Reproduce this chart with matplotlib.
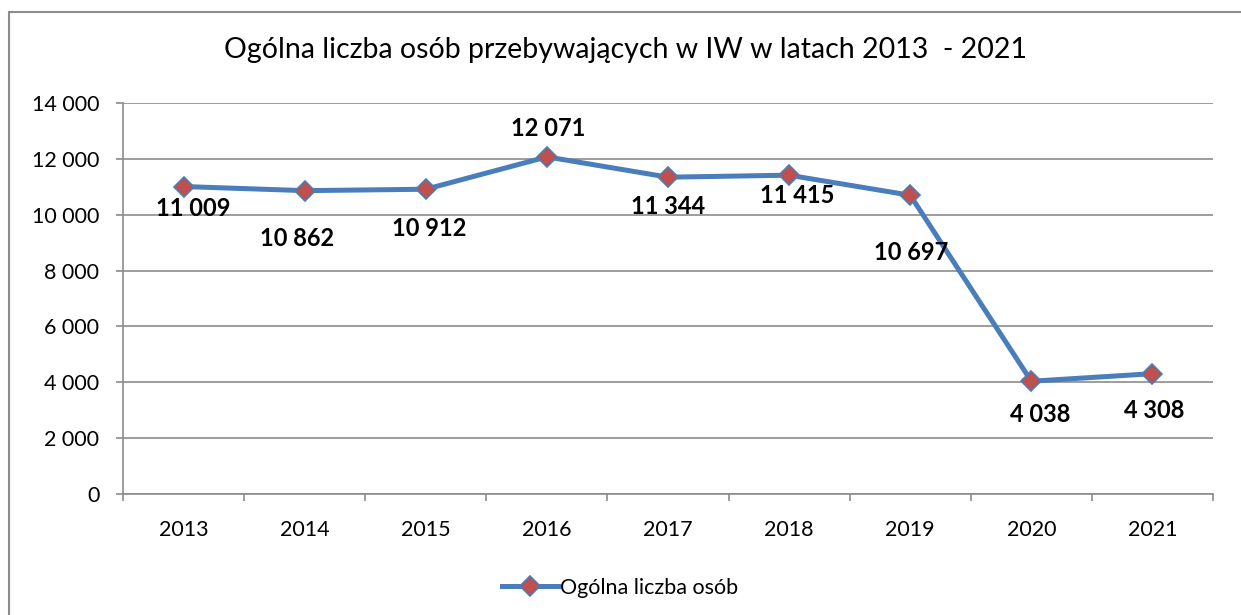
import matplotlib
matplotlib.use("Agg")
import matplotlib.pyplot as plt
from matplotlib.ticker import FuncFormatter, FixedLocator
from matplotlib.lines import Line2D
from matplotlib.patches import Rectangle

plt.rcParams['font.family'] = ['Lato', 'DejaVu Sans']

years = ["2013", "2014", "2015", "2016", "2017", "2018", "2019", "2020", "2021"]
values = [11009, 10862, 10912, 12071, 11344, 11415, 10697, 4038, 4308]
y_ticks = [0, 2000, 4000, 6000, 8000, 10000, 12000, 14000]
title = "Ogólna liczba osób przebywających w IW w latach 2013  - 2021"
series_name = "Ogólna liczba osób"

# label offsets in pixels (dx, dy)
label_offsets = [(10, -22), (-8, -48), (3, -39), (1, 28), (0, -29),
                 (8, -20), (1, -57), (9, -33), (2, -37)]

fig = plt.figure(figsize=(12.41, 6.15), dpi=100)
ax = fig.add_axes([123/1241, 1 - 494/615, (1213-123)/1241, (494-103)/615])

line_col = "#4A7EBB"
mark_col = "#C0504D"
grid_col = "#8C8C8C"

x = list(range(len(years)))
ax.plot(x, values, color=line_col, lw=3.6, marker="D", markersize=10.5,
        markerfacecolor=mark_col, markeredgecolor=line_col, markeredgewidth=1.2,
        zorder=3, solid_joinstyle="round")

def fmt(v):
    return f"{int(v):,}".replace(",", " ")

for xi, v, (dx, dy) in zip(x, values, label_offsets):
    ax.annotate(fmt(v), (xi, v), xytext=(dx, dy), textcoords="offset pixels",
                ha="center", va="center", fontsize=17, fontweight="bold",
                color="black", zorder=4)

ax.set_xlim(-0.5, len(years) - 0.5)
ax.set_ylim(0, 14000)
ax.set_yticks(y_ticks)
ax.yaxis.set_major_formatter(FuncFormatter(lambda v, p: fmt(v)))
ax.set_xticks(x)
ax.set_xticklabels(years)
ax.xaxis.set_minor_locator(FixedLocator([i - 0.5 for i in range(len(years) + 1)]))

ax.grid(axis="y", color=grid_col, lw=1.2, zorder=0)
ax.set_axisbelow(True)
for s in ["top", "right"]:
    ax.spines[s].set_visible(False)
for s in ["left", "bottom"]:
    ax.spines[s].set_color(grid_col)
    ax.spines[s].set_linewidth(1.2)

ax.tick_params(axis="y", length=5, width=1.2, color=grid_col, pad=12, labelsize=15.5)
ax.tick_params(axis="x", which="major", length=0, pad=19, labelsize=15.5)
ax.tick_params(axis="x", which="minor", length=5, width=1.2, color=grid_col)

fig.text(626/1241, 1 - 50/615, title, ha="center", va="center", fontsize=20.5)

handle = Line2D([], [], color=line_col, lw=3.6, marker="D", markersize=10.5,
                markerfacecolor=mark_col, markeredgecolor=line_col, markeredgewidth=1.2)
fig.legend([handle], [series_name], loc="center", bbox_to_anchor=(620/1241, 1 - 588/615),
           frameon=False, fontsize=15.5, handlelength=2.6, handletextpad=0.1)

fig.patches.append(Rectangle((9/1241, -0.1), 1.2, 1 - 12/615 + 0.1,
                             transform=fig.transFigure, fill=False,
                             edgecolor="#8C8C8C", lw=1.5))

fig.savefig("out.png", dpi=100)
